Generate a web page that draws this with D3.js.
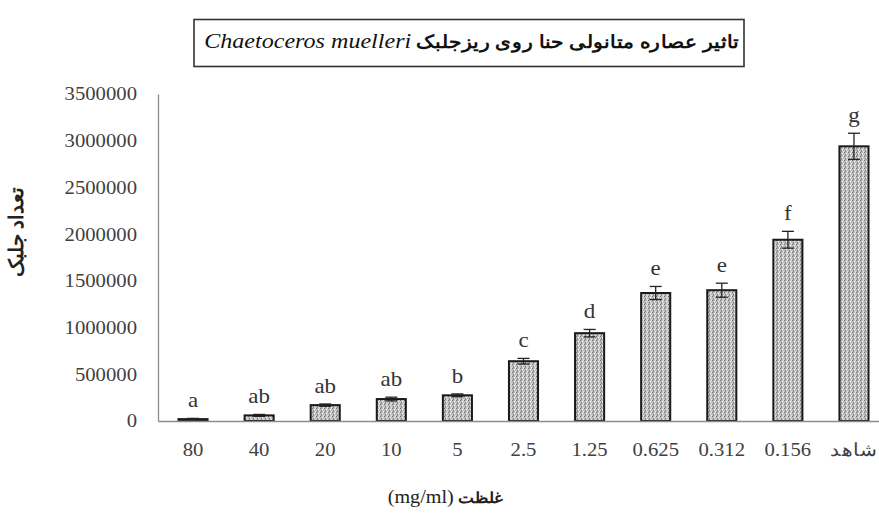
<!DOCTYPE html>
<html><head><meta charset="utf-8">
<script src="https://cdn.jsdelivr.net/npm/d3@7"></script>
<style>body{margin:0;background:#fff}svg{display:block}</style>
</head><body>
<svg id="c" width="879" height="513"></svg>
<script>
const categories = ["80","40","20","10","5","2.5","1.25","0.625","0.312","0.156","شاهد"];
const values = [20000, 60000, 170000, 235000, 275000, 640000, 940000, 1370000, 1400000, 1940000, 2940000];
const errors = [8000, 10000, 12000, 20000, 15000, 30000, 40000, 70000, 75000, 90000, 140000];
const letters = ["a","ab","ab","ab","b","c","d","e","e","f","g"];
const yTicks = [0,500000,1000000,1500000,2000000,2500000,3000000,3500000];

const SERIF = "'Liberation Serif', 'Times New Roman', 'DejaVu Serif', serif";
const SX = 1.12;
function stretch(el, ax, ay){ d3.select(el).attr("transform",`translate(${ax},${ay}) scale(${SX},1) translate(${-ax},${-ay})`); }

const svg = d3.select("#c");
const m = {l:158, r:889, t:94, b:421};
const x = d3.scaleBand().domain(categories).range([m.l, m.r]).paddingInner(0.56).paddingOuter(0.31);
const y = d3.scaleLinear().domain([0,3500000]).range([m.b, m.t]);

// pattern
const defs = svg.append("defs");
const p = defs.append("pattern").attr("id","tex").attr("patternUnits","userSpaceOnUse").attr("width",4).attr("height",4);
p.append("rect").attr("width",4).attr("height",4).attr("fill","#bdbdbd");
[[0,0,"#6e6e6e"],[2,1,"#f0f0f0"],[1,2,"#828282"],[3,3,"#e6e6e6"],[3,0,"#dcdcdc"],[1,3,"#909090"],[2,2,"#d8d8d8"]].forEach(d=>{
  p.append("rect").attr("x",d[0]).attr("y",d[1]).attr("width",1).attr("height",1).attr("fill",d[2]);
});

// y axis
const yAxis = d3.axisLeft(y).tickValues(yTicks).tickSize(0).tickPadding(21).tickFormat(d3.format("d"));
const ga = svg.append("g").attr("transform",`translate(${m.l},0)`).call(yAxis);
ga.select(".domain").attr("stroke","#8c8c8c").attr("stroke-width",1.3);
ga.selectAll("text").style("font-family",SERIF).attr("font-size",18.5).attr("fill","#404040")
  .each(function(){ stretch(this, -21, 0); });

// bars
svg.append("g").selectAll("rect").data(categories).join("rect")
  .attr("x", d=>x(d)).attr("width", x.bandwidth())
  .attr("y", (d,i)=>y(values[i])).attr("height",(d,i)=>y(0)-y(values[i]))
  .attr("fill","url(#tex)").attr("stroke","#1a1a1a").attr("stroke-width",2);

// error bars
const eg = svg.append("g").attr("stroke","#222").attr("stroke-width",1.3);
categories.forEach((c,i)=>{
  const cx = x(c)+x.bandwidth()/2;
  const lo = Math.max(0, values[i]-errors[i]), hi = values[i]+errors[i];
  eg.append("line").attr("x1",cx).attr("x2",cx).attr("y1",y(lo)).attr("y2",y(hi));
  eg.append("line").attr("x1",cx-6).attr("x2",cx+6).attr("y1",y(hi)).attr("y2",y(hi));
  eg.append("line").attr("x1",cx-6).attr("x2",cx+6).attr("y1",y(lo)).attr("y2",y(lo));
});

// letters
svg.append("g").selectAll("text").data(categories).join("text")
  .attr("x", d=>x(d)+x.bandwidth()/2)
  .attr("y", (d,i)=>y(values[i]+errors[i])-11)
  .attr("text-anchor","middle").style("font-family",SERIF).attr("font-size",20.5).attr("fill","#333")
  .text((d,i)=>letters[i])
  .each(function(d,i){ stretch(this, x(d)+x.bandwidth()/2, 0); });

// x axis
const xAxis = d3.axisBottom(x).tickSize(0).tickPadding(22);
const gx = svg.append("g").attr("transform",`translate(0,${m.b})`).call(xAxis);
gx.select(".domain").attr("stroke","#8c8c8c").attr("stroke-width",1.5);
gx.selectAll("text").style("font-family",SERIF).attr("font-size",18.5).attr("fill","#404040")
  .each(function(){ stretch(this, 0, 0); });

// axis titles
svg.append("text").attr("transform","translate(23,232) rotate(-90)").attr("text-anchor","middle")
  .style("font-family",SERIF).attr("font-weight","bold").attr("font-size",20).attr("fill","#222")
  .text("تعداد جلبک");
const xt = svg.append("text").attr("x",445).attr("y",503).attr("text-anchor","middle")
  .style("font-family",SERIF).attr("fill","#222");
xt.append("tspan").attr("font-size",18).text("(mg/ml)");
xt.append("tspan").attr("font-size",15).attr("font-weight","bold").text("   غلظت");
stretch(xt.node(), 445, 0);

// title box
svg.append("rect").attr("x",194).attr("y",19.5).attr("width",550).attr("height",47)
  .attr("fill","#fff").attr("stroke","#333").attr("stroke-width",1.6);
const t = svg.append("text").attr("x",472).attr("y",48).attr("text-anchor","middle")
  .style("font-family",SERIF).attr("fill","#111");
t.append("tspan").attr("font-style","italic").attr("font-size",21.5).text("Chaetoceros muelleri");
t.append("tspan").attr("font-weight","bold").attr("font-size",18.5).text(" تاثیر عصاره متانولی حنا روی ریزجلبک");
stretch(t.node(), 472, 0);
</script>
</body></html>
